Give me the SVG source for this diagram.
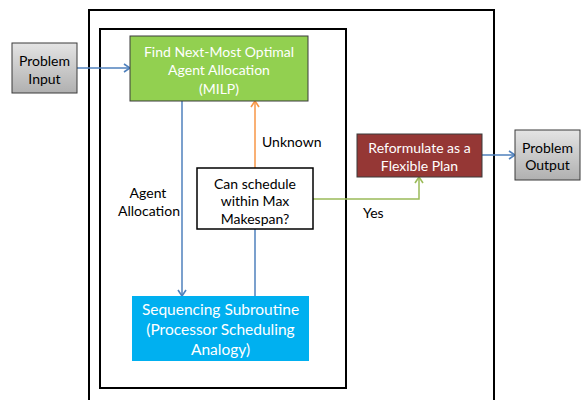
<svg xmlns="http://www.w3.org/2000/svg" width="581" height="400" viewBox="0 0 581 400">
<style>
text{font-family:Lato,"Open Sans","Liberation Sans",sans-serif;font-size:14px;text-anchor:middle;dominant-baseline:central}
.w{fill:#ffffff}
.k{fill:#000000}
.box{stroke:#3b3b3b;stroke-width:1}
.dec{fill:#ffffff;stroke:#000;stroke-width:1.5}
.frame{fill:none;stroke:#000;stroke-width:2}
.c{fill:none;stroke-width:1.5}
.lbl{text-anchor:start}
</style>
<defs>
<linearGradient id="gray" x1="0" y1="0" x2="0" y2="1">
<stop offset="0" stop-color="#e4e4e4"/>
<stop offset="1" stop-color="#b0b0b0"/>
</linearGradient>
<marker id="ab" viewBox="0 0 10 10" refX="9" refY="5" markerWidth="10" markerHeight="10" markerUnits="userSpaceOnUse" orient="auto">
<polyline points="3,1 9,5 3,9" fill="none" stroke="#4F81BD" stroke-width="1.6"/>
</marker>
<marker id="ao" viewBox="0 0 10 10" refX="9" refY="5" markerWidth="10" markerHeight="10" markerUnits="userSpaceOnUse" orient="auto">
<polyline points="3,1 9,5 3,9" fill="none" stroke="#F79646" stroke-width="1.6"/>
</marker>
<marker id="ag" viewBox="0 0 10 10" refX="9" refY="5" markerWidth="10" markerHeight="10" markerUnits="userSpaceOnUse" orient="auto">
<polyline points="3,1 9,5 3,9" fill="none" stroke="#9BBB59" stroke-width="1.6"/>
</marker>
</defs>
<rect width="581" height="400" fill="#ffffff"/>
<g id="frames">
<rect class="frame" x="89" y="10" width="405" height="400"/>
<rect class="frame" x="100" y="29" width="246" height="359"/>
</g>
<g id="connectors">
<line class="c" x1="77" y1="68" x2="130" y2="68" stroke="#4F81BD" marker-end="url(#ab)"/>
<line class="c" x1="182" y1="101" x2="182" y2="296" stroke="#4F81BD" marker-end="url(#ab)"/>
<line class="c" x1="255" y1="168" x2="255" y2="101" stroke="#F79646" marker-end="url(#ao)"/>
<line class="c" x1="255" y1="229" x2="255" y2="296" stroke="#4F81BD"/>
<polyline class="c" points="313,199 419,199 419,177" stroke="#9BBB59" marker-end="url(#ag)"/>
<line class="c" x1="482" y1="155" x2="515" y2="155" stroke="#4F81BD" marker-end="url(#ab)"/>
<text class="k lbl" x="262" y="141">Unknown</text>
<text class="k" x="148" y="192">Agent</text>
<text class="k" x="149" y="210">Allocation</text>
<text class="k lbl" x="363" y="212">Yes</text>
</g>
<g id="problem-input">
<rect class="box" x="12" y="43" width="65" height="50" fill="url(#gray)"/>
<text class="k" x="44.5" y="60">Problem</text>
<text class="k" x="44.5" y="78">Input</text>
</g>
<g id="find-allocation">
<rect class="box" x="130" y="36" width="178" height="65" fill="#92D050"/>
<text class="w" x="219" y="51">Find Next-Most Optimal</text>
<text class="w" x="219" y="69">Agent Allocation</text>
<text class="w" x="219" y="88">(MILP)</text>
</g>
<g id="decision">
<rect class="dec" x="197" y="168" width="116" height="61"/>
<text class="k" x="255" y="183">Can schedule</text>
<text class="k" x="255" y="200">within Max</text>
<text class="k" x="255" y="218">Makespan?</text>
</g>
<g id="sequencing">
<rect x="132" y="296" width="177" height="65" fill="#00B0F0"/>
<text class="w" x="220.5" y="309" style="font-size:15.5px">Sequencing Subroutine</text>
<text class="w" x="220.5" y="329" style="font-size:15.5px">(Processor Scheduling</text>
<text class="w" x="220.5" y="349" style="font-size:15.5px">Analogy)</text>
</g>
<g id="reformulate">
<rect class="box" x="357" y="134" width="125" height="43" fill="#953735"/>
<text class="w" x="419.5" y="147">Reformulate as a</text>
<text class="w" x="419.5" y="165">Flexible Plan</text>
</g>
<g id="problem-output">
<rect class="box" x="515" y="130" width="65" height="50" fill="url(#gray)"/>
<text class="k" x="547.5" y="147">Problem</text>
<text class="k" x="547.5" y="164">Output</text>
</g>
</svg>
